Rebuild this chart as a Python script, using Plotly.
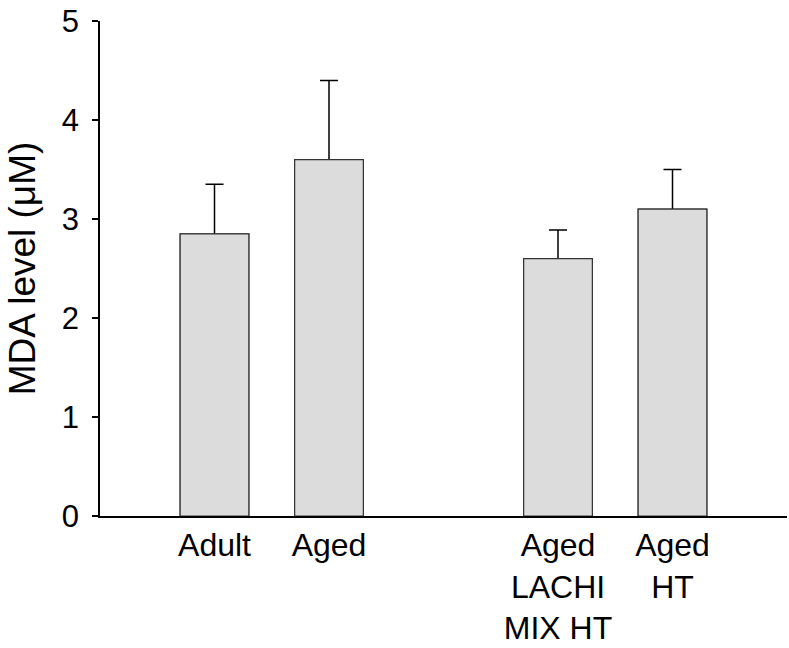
import plotly.graph_objects as go

categories = ["Adult", "Aged", " ", "Aged<br>LACHI<br>MIX HT", "Aged<br>HT"]
mda_values = [2.85, 3.6, None, 2.6, 3.1]
mda_errors = [0.5, 0.8, None, 0.29, 0.4]
y_ticks = [0, 1, 2, 3, 4, 5]

FONT = "Liberation Sans, Arial, Helvetica, sans-serif"
BAR_FILL = "#dcdcdc"
BAR_EDGE = "#333333"

fig = go.Figure()
# error bars (lower half hidden behind the bars drawn on top)
fig.add_trace(go.Bar(
    x=categories,
    y=mda_values,
    marker=dict(color=BAR_FILL, line=dict(color=BAR_EDGE, width=1.2)),
    error_y=dict(type="data", array=mda_errors, symmetric=True,
                 color="#000000", thickness=1.5, width=9),
    width=0.6,
    showlegend=False,
    hoverinfo="skip",
))
fig.add_trace(go.Bar(
    x=categories,
    y=mda_values,
    marker=dict(color=BAR_FILL, line=dict(color=BAR_EDGE, width=1.2)),
    width=0.6,
    showlegend=False,
))

fig.update_layout(
    width=789, height=648,
    barmode="overlay",
    margin=dict(l=100, r=2, t=21, b=132),
    paper_bgcolor="white", plot_bgcolor="white",
    font=dict(family=FONT, color="black"),
    xaxis=dict(
        type="category",
        range=[-1, 5],
        automargin=False,
        showline=True, linecolor="black", linewidth=1.5,
        ticks="", showgrid=False, zeroline=False,
        tickfont=dict(size=32, family=FONT, color="black"),
    ),
    yaxis=dict(
        range=[0, 5],
        tickvals=y_ticks,
        automargin=False,
        showline=True, linecolor="black", linewidth=1.5,
        ticks="outside", ticklen=6, tickwidth=1.5, tickcolor="black",
        ticklabelstandoff=7,
        showgrid=False, zeroline=False,
        tickfont=dict(size=31, family=FONT, color="black"),
        title=dict(text="MDA level (μM)", font=dict(size=37, family=FONT, color="black"), standoff=15),
    ),
)

fig.write_html(
    "out.html",
    config={"displayModeBar": False},
    post_script="document.body.style.margin='0';document.body.style.overflow='hidden';",
)
